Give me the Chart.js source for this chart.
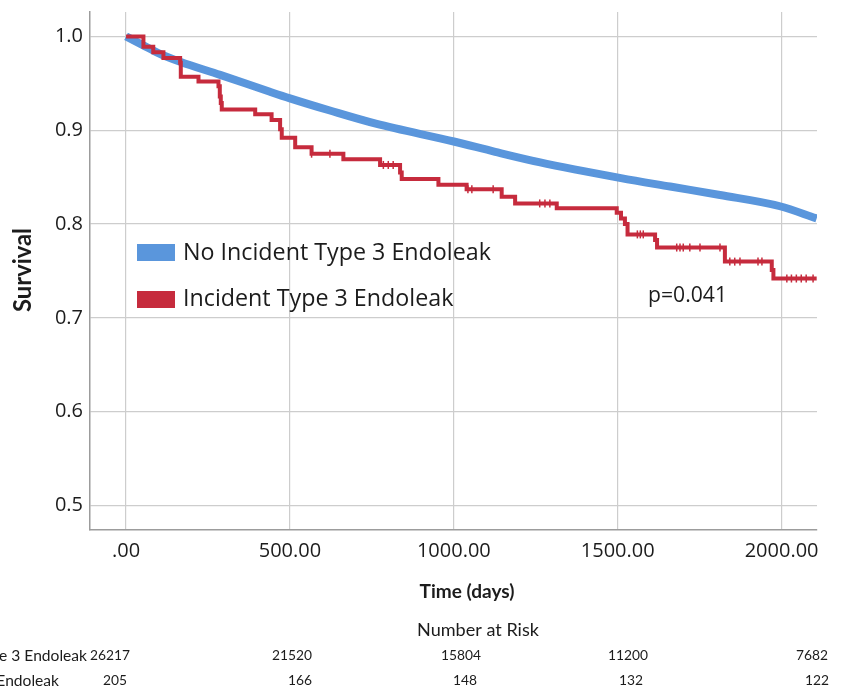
<!DOCTYPE html>
<html>
<head>
<meta charset="utf-8">
<script src="https://cdn.jsdelivr.net/npm/chart.js@4.4.1/dist/chart.umd.min.js"></script>
<style>
  body { margin: 0; background: #fff; }
  canvas { display: block; }
</style>
</head>
<body>
<canvas id="km_curve" width="843" height="688"></canvas>
<script>
// tick values
const xTicks = [0, 500, 1000, 1500, 2000];
const yTicks = [0.5, 0.6, 0.7, 0.8, 0.9, 1.0];

// No incident type 3 endoleak
const blueTime = [0, 50, 100, 165, 287, 439, 500, 622, 762, 1000, 1126, 1260, 1510, 1660, 1812, 1995, 2107];
const blueSurv = [1.0, 0.991, 0.982, 0.973, 0.959, 0.941, 0.934, 0.921, 0.907, 0.888, 0.877, 0.866, 0.849, 0.840, 0.831, 0.819, 0.806];

// Incident type 3 endoleak, step points
const redTime = [0, 53, 83, 114, 165, 167, 221, 282, 286, 289, 292, 394, 444, 470, 475, 516, 566, 663, 775, 836, 841, 953, 1039, 1146, 1187, 1314, 1497, 1510, 1522, 1530, 1614, 1620, 1827, 1970, 1975, 2107];
const redSurv = [1.0, 0.989, 0.983, 0.977, 0.972, 0.957, 0.952, 0.947, 0.936, 0.929, 0.922, 0.917, 0.911, 0.901, 0.892, 0.882, 0.875, 0.869, 0.863, 0.855, 0.848, 0.842, 0.837, 0.829, 0.822, 0.817, 0.812, 0.806, 0.800, 0.789, 0.783, 0.775, 0.760, 0.751, 0.742, 0.742];

// censored marks on the red curve
const censorTime = [566, 622, 785, 800, 815, 1043, 1055, 1120, 1262, 1278, 1293, 1560, 1569, 1578, 1680, 1690, 1700, 1720, 1751, 1812, 1842, 1857, 1873, 1928, 1940, 2016, 2030, 2045, 2060, 2075, 2096];
const censorSurv = [0.875, 0.875, 0.863, 0.863, 0.863, 0.837, 0.837, 0.837, 0.822, 0.822, 0.822, 0.789, 0.789, 0.789, 0.775, 0.775, 0.775, 0.775, 0.775, 0.775, 0.760, 0.760, 0.760, 0.760, 0.760, 0.742, 0.742, 0.742, 0.742, 0.742, 0.742];

// number at risk
const groupNames = ["No Incident Type 3 Endoleak", "Incident Type 3 Endoleak"];
const riskNoIncident = [26217, 21520, 15804, 11200, 7682];
const riskIncident = [205, 166, 148, 132, 122];

const BLUE = "#5a96dc";
const RED = "#c62b3d";
const TEXT = "#1c1c1c";
const FONT = "'Open Sans', 'Noto Sans', sans-serif";
const CAL = "Lato, 'Liberation Sans', sans-serif";

const toPoints = (xs, ys) => xs.map((x, i) => ({x: x, y: ys[i]}));

function fitSize(ctx, text, width, weight, family) {
  ctx.font = weight + " 100px " + family;
  return 100 * width / ctx.measureText(text).width;
}

const annotations = {
  id: "annotations",
  afterDraw(chart) {
    const ctx = chart.ctx;
    ctx.save();
    ctx.fillStyle = TEXT;
    ctx.textBaseline = "middle";

    // legend inside the plot
    ctx.fillStyle = BLUE;
    ctx.fillRect(137, 244, 38, 17);
    ctx.fillStyle = RED;
    ctx.fillRect(137, 291, 38, 17);
    ctx.fillStyle = TEXT;
    let s = fitSize(ctx, groupNames[0], 308, "normal", FONT);
    ctx.font = s + "px " + FONT;
    ctx.textAlign = "left";
    ctx.fillText(groupNames[0], 183, 253);
    ctx.fillText(groupNames[1], 183, 299);

    // p value
    s = fitSize(ctx, "p=0.041", 79, "normal", FONT);
    ctx.font = s + "px " + FONT;
    ctx.fillText("p=0.041", 648, 296);

    // axis titles
    s = fitSize(ctx, "Time (days)", 95, "bold", CAL);
    ctx.font = "bold " + s + "px " + CAL;
    ctx.textAlign = "center";
    ctx.fillText("Time (days)", 467, 592);

    ctx.save();
    ctx.translate(23, 270);
    ctx.rotate(-Math.PI / 2);
    s = fitSize(ctx, "Survival", 84, "bold", CAL);
    ctx.font = "bold " + s + "px " + CAL;
    ctx.fillText("Survival", 0, 0);
    ctx.restore();

    // number at risk table
    s = fitSize(ctx, "Number at Risk", 122, "normal", CAL);
    ctx.font = s + "px " + CAL;
    ctx.textAlign = "center";
    ctx.fillText("Number at Risk", 478, 630);

    // row labels run off the left edge
    s = fitSize(ctx, "e 3 Endoleak", 88, "normal", CAL);
    ctx.font = s + "px " + CAL;
    ctx.textAlign = "right";
    ctx.fillText(groupNames[0], 87, 656);
    ctx.fillText(groupNames[1], 59, 681);

    s = fitSize(ctx, "26217", 40, "normal", CAL);
    ctx.font = s + "px " + CAL;
    ctx.textAlign = "center";
    const col1 = [110, 292, 461, 628, 812];
    const col2 = [115, 300, 465, 631, 817];
    riskNoIncident.forEach((n, i) => ctx.fillText(String(n), col1[i], 656));
    riskIncident.forEach((n, i) => ctx.fillText(String(n), col2[i], 681));
    ctx.restore();
  }
};

const ctx = document.getElementById("km_curve");

new Chart(ctx, {
  type: "line",
  data: {
    datasets: [
      {
        label: "censored",
        data: toPoints(censorTime, censorSurv),
        showLine: false,
        pointStyle: "line",
        rotation: 90,
        pointRadius: 4,
        pointBorderWidth: 1.5,
        pointBorderColor: RED,
        pointBackgroundColor: RED,
      },
      {
        label: groupNames[1],
        data: toPoints(redTime, redSurv),
        stepped: true,
        borderColor: RED,
        backgroundColor: RED,
        borderWidth: 4,
        pointRadius: 0,
      },
      {
        label: groupNames[0],
        data: toPoints(blueTime, blueSurv),
        cubicInterpolationMode: "monotone",
        borderColor: BLUE,
        backgroundColor: BLUE,
        borderWidth: 8,
        pointRadius: 0,
      },
    ],
  },
  options: {
    responsive: false,
    animation: false,
    devicePixelRatio: 1,
    layout: { padding: { left: 0, top: 12, right: 26, bottom: 118 } },
    plugins: {
      legend: { display: false },
      tooltip: { enabled: false },
    },
    scales: {
      x: {
        type: "linear",
        min: -110,
        max: 2108,
        afterBuildTicks: (scale) => { scale.ticks = xTicks.map((v) => ({value: v})); },
        afterFit: (scale) => {
          scale.height = 40;
          scale.paddingLeft = 0;
          scale.paddingRight = 0;
        },
        grid: { color: "#cdcdcd", lineWidth: 1.2, drawTicks: false },
        border: { color: "#9c9c9c", width: 1.5 },
        ticks: {
          padding: 9,
          color: TEXT,
          font: { family: FONT, size: 20 },
          maxRotation: 0,
          callback: (v) => (v === 0 ? ".00" : v.toFixed(2)),
        },
      },
      y: {
        min: 0.474,
        max: 1.026,
        afterBuildTicks: (scale) => { scale.ticks = yTicks.map((v) => ({value: v})); },
        afterFit: (scale) => {
          scale.width = 90;
          scale.paddingTop = 0;
          scale.paddingBottom = 0;
        },
        grid: { color: "#cdcdcd", lineWidth: 1.2, drawTicks: false },
        border: { color: "#9c9c9c", width: 1.5 },
        ticks: {
          padding: 7,
          color: TEXT,
          font: { family: FONT, size: 20 },
          callback: (v) => v.toFixed(1),
        },
      },
    },
  },
  plugins: [annotations],
});
</script>
</body>
</html>
